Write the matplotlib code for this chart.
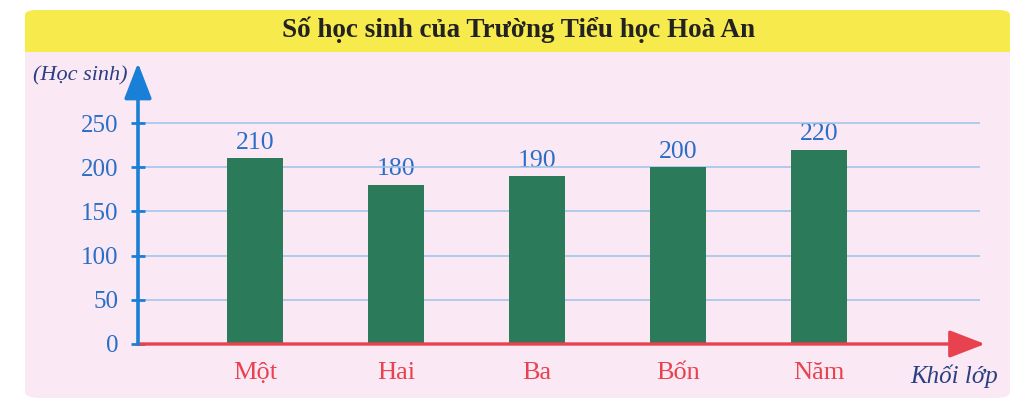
import matplotlib
matplotlib.use("Agg")
import matplotlib.pyplot as plt
from matplotlib.patches import FancyBboxPatch, Rectangle

# -----------------------------
# Data
# -----------------------------
grades = ["Một", "Hai", "Ba", "Bốn", "Năm"]
students = [210, 180, 190, 200, 220]
y_ticks = [0, 50, 100, 150, 200, 250]

title = "Số học sinh của Trường Tiểu học Hoà An"
y_label = "(Học sinh)"
x_label = "Khối lớp"

# colours
PINK = "#fae8f4"
YELLOW = "#f6ea4c"
BAR = "#2b7a5a"
BLUE = "#1a7fd6"
TXT_BLUE = "#2a6ec6"
GRID = "#9cc4e8"
RED = "#e8424e"
NAVY = "#2b3f80"

plt.rcParams["font.family"] = ["Liberation Serif", "DejaVu Serif"]

W, H = 1026, 405
fig = plt.figure(figsize=(W / 100, H / 100), dpi=100)
fig.patch.set_facecolor("white")

# background panel (pink) with yellow header band
def px(x, y):
    return x / W, 1 - y / H

panel = FancyBboxPatch(px(25, 398), (1010 - 25) / W, (398 - 10) / H,
                       boxstyle="round,pad=0,rounding_size=0.015",
                       transform=fig.transFigure, facecolor=PINK,
                       edgecolor="none", zorder=-10)
fig.patches.append(panel)
header = FancyBboxPatch(px(25, 52), (1010 - 25) / W, (52 - 10) / H,
                        boxstyle="round,pad=0,rounding_size=0.012",
                        transform=fig.transFigure, facecolor=YELLOW,
                        edgecolor="none", zorder=-9)
fig.patches.append(header)
# square off the header's lower corners
fig.patches.append(Rectangle(px(25, 52), (1010 - 25) / W, 15 / H,
                             transform=fig.transFigure, facecolor=YELLOW,
                             edgecolor="none", zorder=-9))
fig.text(518 / W, 1 - 30 / H, title, ha="center", va="center",
         fontsize=19.5, fontweight="bold", color="#222222")

# -----------------------------
# Chart axes
# -----------------------------
x0_px, x1_px = 138, 985
y0_px, y1_px = 344, 63
ax = fig.add_axes([x0_px / W, 1 - y0_px / H, (x1_px - x0_px) / W, (y0_px - y1_px) / H])
ax.set_facecolor("none")
ax.set_zorder(2)

spacing = 141.0
x_left = -(255 - x0_px) / spacing
x_right = (x1_px - 255) / spacing
y_top = 250 * (y0_px - y1_px) / (344 - 123)
ax.set_xlim(x_left, x_right)
ax.set_ylim(0, y_top)

xs = list(range(len(grades)))

# gridlines
ax.hlines(y_ticks[1:], x_left, (980 - 255) / spacing, color=GRID, lw=1.1, zorder=1)

ax.bar(xs, students, width=0.40, color=BAR, zorder=2)
for x, v in zip(xs, students):
    ax.text(x, v + 5, str(v), ha="center", va="bottom", fontsize=18.5,
            color=TXT_BLUE, zorder=0.5)

for s in ax.spines.values():
    s.set_visible(False)

# axes arrows
arrow = "-|>,head_length=2.2,head_width=0.85"
ax.annotate("", xy=(1.0, 0), xytext=(0, 0), xycoords="axes fraction",
            arrowprops=dict(arrowstyle=arrow, color=RED, lw=2.4,
                            shrinkA=0, shrinkB=0), zorder=3)
ax.annotate("", xy=(0, 1.0), xytext=(0, 0), xycoords="axes fraction",
            arrowprops=dict(arrowstyle=arrow, color=BLUE, lw=2.6,
                            shrinkA=0, shrinkB=0), zorder=3)

ax.set_yticks(y_ticks)
ax.set_yticklabels([str(t) for t in y_ticks])
ax.tick_params(axis="y", direction="inout", length=10, width=2, color=BLUE,
               labelcolor=TXT_BLUE, labelsize=18, pad=9)
ax.set_xticks(xs)
ax.set_xticklabels(grades)
ax.tick_params(axis="x", length=0, labelcolor=RED, labelsize=19, pad=13)

fig.text(80 / W, 1 - 76 / H, y_label, ha="center", va="center",
         fontsize=16, style="italic", color=NAVY)
fig.text(954 / W, 1 - 376 / H, x_label, ha="center", va="center",
         fontsize=18, style="italic", color=NAVY)

fig.savefig("out.png", dpi=100, facecolor=fig.get_facecolor())
